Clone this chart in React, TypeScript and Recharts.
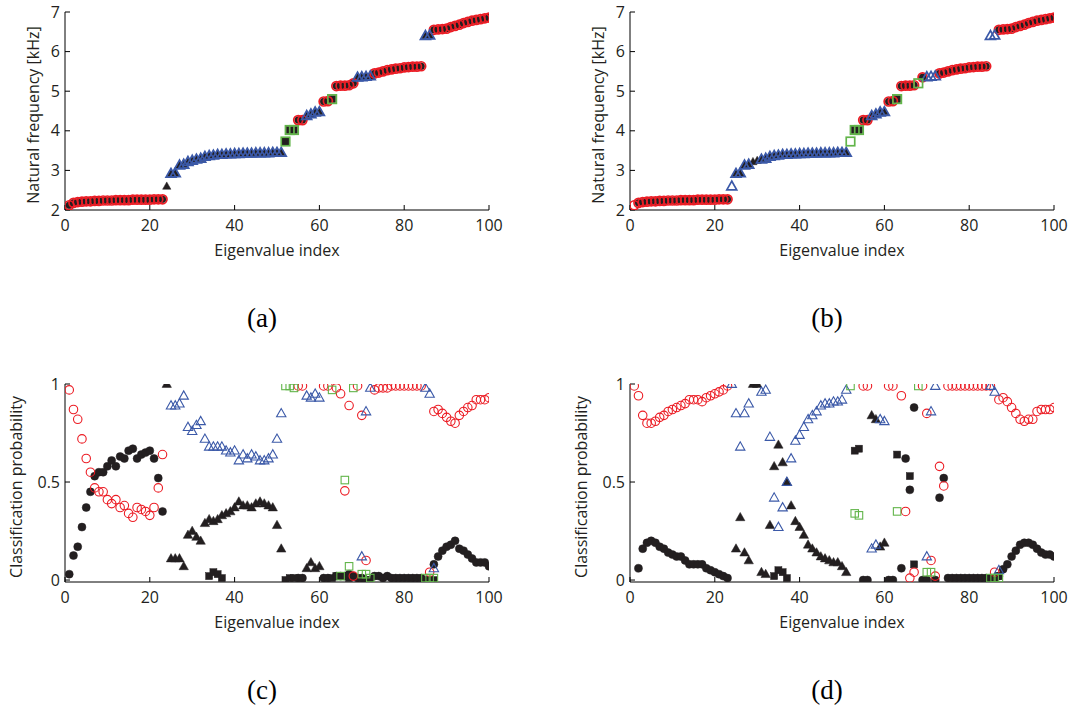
import { ScatterChart, Scatter, XAxis, YAxis } from "recharts";

// natural frequency [kHz] of eigenvalues 1..100 (panels a, b)
const FREQ = [
  2.12, 2.18, 2.2, 2.21, 2.22, 2.22, 2.23, 2.23, 2.24, 2.24, 2.24, 2.25, 2.25, 2.25, 2.25, 2.26, 2.26, 2.26, 2.26, 2.26,
  2.27, 2.27, 2.27, 2.6, 2.92, 2.93, 3.13, 3.15, 3.22, 3.25, 3.28, 3.3, 3.35, 3.37, 3.38, 3.4, 3.4, 3.41, 3.41, 3.42,
  3.42, 3.43, 3.43, 3.43, 3.44, 3.44, 3.44, 3.44, 3.45, 3.45, 3.45, 3.73, 4.02, 4.02, 4.27, 4.27, 4.38, 4.42, 4.47, 4.48,
  4.74, 4.75, 4.8, 5.13, 5.14, 5.14, 5.15, 5.2, 5.35, 5.36, 5.37, 5.38, 5.45, 5.47, 5.5, 5.53, 5.55, 5.57, 5.58, 5.6,
  5.61, 5.62, 5.62, 5.63, 6.4, 6.41, 6.55, 6.56, 6.57, 6.58, 6.62, 6.65, 6.68, 6.72, 6.75, 6.78, 6.8, 6.82, 6.84, 6.86,
];

// class of each eigenvalue as runs: c = circle, t = triangle, s = square, - = none
type Run = [string, number];
const A_RING: Run[] = [["c", 23], ["-", 1], ["t", 27], ["s", 3], ["c", 2], ["t", 4], ["c", 2], ["s", 1], ["c", 5], ["t", 4], ["c", 12], ["t", 2], ["c", 14]];
const A_FILL: Run[] = [["c", 23], ["t", 28], ["s", 3], ["c", 2], ["t", 4], ["c", 2], ["s", 1], ["c", 5], ["t", 4], ["c", 12], ["t", 2], ["c", 14]];
const B_RING: Run[] = [["c", 23], ["t", 5], ["-", 2], ["t", 21], ["s", 3], ["c", 2], ["t", 4], ["c", 2], ["s", 1], ["c", 4], ["s", 1], ["c", 1], ["t", 3], ["c", 12], ["t", 2], ["c", 14]];
const B_FILL: Run[] = [["-", 1], ["c", 22], ["-", 1], ["t", 27], ["-", 1], ["s", 2], ["c", 2], ["t", 4], ["c", 2], ["s", 1], ["c", 4], ["-", 1], ["c", 1], ["-", 3], ["c", 12], ["-", 2], ["c", 14]];

// classification probability, as [first index, values...]
type Seg = [number, number[]];
const C_RED: Seg[] = [
  [1, [0.97, 0.87, 0.82, 0.72, 0.62, 0.55, 0.47, 0.45, 0.45, 0.41, 0.39, 0.41, 0.37, 0.38, 0.34, 0.32, 0.37, 0.36, 0.35, 0.33, 0.37, 0.47, 0.64]],
  [55, [0.99, 0.99]],
  [61, [0.99, 0.99]],
  [64, [0.98, 0.95, 0.455, 0.89, 0.02, 0.99, 0.84, 0.1]],
  [73, [0.97, 0.98, 0.98, 0.98, 0.99, 0.99, 0.99, 0.99, 0.99, 0.99, 0.99, 0.99]],
  [86, [0.04, 0.86, 0.87, 0.85, 0.83, 0.81, 0.8, 0.84, 0.86, 0.88, 0.89, 0.92, 0.92, 0.92, 0.93]],
];
const C_DOT: Seg[] = [
  [1, [0.03, 0.125, 0.17, 0.27, 0.37, 0.45, 0.53, 0.55, 0.55, 0.58, 0.61, 0.58, 0.63, 0.62, 0.66, 0.67, 0.62, 0.64, 0.65, 0.66, 0.62, 0.52, 0.35]],
  [55, [0.01, 0.01]],
  [61, [0.01, 0.01]],
  [64, [0.02, 0.02, 0.02, 0.03, 0.02, 0.01, 0.01]],
  [73, [0.02, 0.02, 0.01, 0.02, 0.01, 0.01, 0.01, 0.01, 0.01, 0.01, 0.01, 0.01]],
  [87, [0.08, 0.12, 0.15, 0.17, 0.18, 0.2, 0.16, 0.15, 0.13, 0.11, 0.09, 0.09, 0.09, 0.07]],
];
const C_TRI: Seg[] = [
  [24, [1.0, 0.11, 0.11, 0.11, 0.07, 0.23, 0.25, 0.22, 0.2, 0.29, 0.31, 0.3, 0.31, 0.33, 0.34, 0.35, 0.37, 0.4, 0.38, 0.38, 0.37, 0.39, 0.4, 0.39, 0.38, 0.37, 0.28, 0.16]],
  [57, [0.06, 0.09, 0.06, 0.07]],
];
const C_BLUE: Seg[] = [
  [25, [0.89, 0.89, 0.9, 0.94, 0.78, 0.76, 0.79, 0.81, 0.72, 0.68, 0.68, 0.68, 0.68, 0.66, 0.65, 0.66, 0.61, 0.64, 0.62, 0.64, 0.63, 0.61, 0.61, 0.62, 0.64, 0.72, 0.85]],
  [57, [0.94, 0.93, 0.95, 0.93]],
  [70, [0.12, 0.86, 0.98]],
  [85, [0.98, 0.95, 0.06]],
];
const C_GREEN: Seg[] = [
  [52, [0.99, 0.99, 0.98]],
  [63, [0.97]],
  [65, [0.02, 0.51, 0.07, 0.98]],
  [70, [0.03, 0.03, 0.01]],
  [85, [0.01, 0.01, 0.01]],
];
const C_SQ: Seg[] = [
  [34, [0.02, 0.04, 0.03, 0.01]],
  [52, [0.0, 0.01, 0.01]],
  [63, [0.01, 0.02, 0.02, 0.02, 0.01]],
  [71, [0.0, 0.0]],
  [85, [0.0, 0.0, 0.0]],
];

const D_RED: Seg[] = [
  [1, [0.99, 0.94, 0.84, 0.8, 0.8, 0.81, 0.83, 0.84, 0.86, 0.87, 0.88, 0.89, 0.9, 0.92, 0.92, 0.92, 0.91, 0.93, 0.94, 0.95, 0.96, 0.97, 0.99]],
  [55, [0.99, 0.99]],
  [61, [0.99, 0.99]],
  [64, [0.94, 0.35, 0.01, 0.04]],
  [69, [0.99, 0.85, 0.1, 0.02, 0.58, 0.48]],
  [75, [0.99, 0.99, 0.99, 0.99, 0.99, 0.99, 0.99, 0.99, 0.99, 0.99, 0.99]],
  [86, [0.04, 0.92, 0.93, 0.91, 0.88, 0.85, 0.82, 0.81, 0.82, 0.82, 0.86, 0.87, 0.87, 0.87, 0.88]],
];
const D_DOT: Seg[] = [
  [2, [0.06, 0.16, 0.19, 0.2, 0.19, 0.17, 0.16, 0.14, 0.13, 0.12, 0.12, 0.1, 0.08, 0.08, 0.08, 0.08, 0.06, 0.05, 0.04, 0.03, 0.02, 0.01]],
  [55, [0, 0]],
  [61, [0, 0]],
  [64, [0.06, 0.62, 0.46, 0.88]],
  [69, [0, 0]],
  [72, [0, 0.42, 0.52]],
  [75, [0.01, 0.01, 0.01, 0.01, 0.01, 0.01, 0.01, 0.01, 0.01, 0.01, 0.01]],
  [87, [0.02, 0.055, 0.08, 0.12, 0.15, 0.18, 0.19, 0.19, 0.18, 0.16, 0.14, 0.13, 0.13, 0.12]],
];
const D_TRI: Seg[] = [
  [25, [0.16, 0.32, 0.14, 0.1, 1.0, 1.0, 0.04, 0.03, 0.28, 0.58, 0.69, 0.6, 0.5, 0.38, 0.3, 0.27, 0.23, 0.18, 0.16, 0.14, 0.12, 0.11, 0.1, 0.09, 0.09, 0.07, 0.04]],
  [57, [0.84, 0.82, 0.17, 0.19]],
];
const D_BLUE: Seg[] = [
  [24, [1.0, 0.85, 0.68, 0.85, 0.9]],
  [31, [0.96, 0.97, 0.73, 0.42, 0.27, 0.37, 0.5, 0.62, 0.71, 0.74, 0.78, 0.82, 0.84, 0.86, 0.89, 0.9, 0.9, 0.91, 0.91, 0.92, 0.97]],
  [57, [0.16, 0.18, 0.82, 0.81]],
  [70, [0.12, 0.86, 0.99]],
  [85, [0.99, 0.96, 0.05]],
];
const D_GREEN: Seg[] = [
  [52, [0.99, 0.34, 0.33]],
  [63, [0.35]],
  [68, [0.99]],
  [70, [0.04, 0.04]],
  [85, [0.01, 0.01, 0.01]],
];
const D_SQ: Seg[] = [
  [34, [0.02, 0.05, 0.04, 0.01]],
  [53, [0.66, 0.67]],
  [63, [0.64]],
  [66, [0.53, 0.08]],
  [85, [0.0, 0.0, 0.02]],
];

const X_TICKS = [0, 20, 40, 60, 80, 100];
const F_TICKS = [2, 3, 4, 5, 6, 7];
const P_TICKS = [0, 0.5, 1];

const RED = "#ec1c24";
const BLUE = "#3b59a8";
const GREEN = "#62b54a";
const INK = "#231f20";
const FONT = "Open Sans, sans-serif";

type Pt = { x: number; y: number };

const expand = (runs: Run[]) => runs.flatMap(([k, n]) => Array(n).fill(k) as string[]);

const freqPoints = (runs: Run[], kind: string): Pt[] =>
  expand(runs)
    .map((k, i) => (k === kind ? { x: i + 1, y: FREQ[i] } : null))
    .filter((p): p is Pt => p !== null);

const segPoints = (segs: Seg[]): Pt[] =>
  segs.flatMap(([start, vals]) => vals.map((v, i) => ({ x: start + i, y: v })));

function markerShape(kind: string, color: string, filled: boolean, size: number, sw = 1.1) {
  return (p: any) => {
    const { cx, cy } = p;
    if (cx == null || cy == null) return <g />;
    const h = size / 2;
    const fill = filled ? color : "none";
    const w = filled ? 0.5 : sw;
    if (kind === "c") return <circle cx={cx} cy={cy} r={h} fill={fill} stroke={color} strokeWidth={w} />;
    if (kind === "s")
      return <rect x={cx - h} y={cy - h} width={size} height={size} fill={fill} stroke={color} strokeWidth={w} />;
    const pts = `${cx},${cy - h * 1.15} ${cx - h * 1.1},${cy + h * 0.8} ${cx + h * 1.1},${cy + h * 0.8}`;
    return <polygon points={pts} fill={fill} stroke={color} strokeWidth={w} strokeLinejoin="miter" />;
  };
}

type Layer = { key: string; data: Pt[]; shape: (p: any) => any };

const COLOR_OF: Record<string, string> = { c: RED, t: BLUE, s: GREEN };

function freqLayers(ring: Run[], fill: Run[]): Layer[] {
  const out: Layer[] = [];
  for (const k of ["c", "t", "s"]) {
    out.push({ key: "f" + k, data: freqPoints(fill, k), shape: markerShape(k, INK, true, k === "t" ? 7.5 : 7) });
  }
  for (const k of ["c", "t", "s"]) {
    out.push({ key: "r" + k, data: freqPoints(ring, k), shape: markerShape(k, COLOR_OF[k], false, k === "s" ? 8.5 : 9, 1.7) });
  }
  return out;
}

function probLayers(dot: Seg[], tri: Seg[], sq: Seg[], red: Seg[], blue: Seg[], green: Seg[]): Layer[] {
  return [
    { key: "dot", data: segPoints(dot), shape: markerShape("c", INK, true, 8) },
    { key: "tri", data: segPoints(tri), shape: markerShape("t", INK, true, 8.5) },
    { key: "sq", data: segPoints(sq), shape: markerShape("s", INK, true, 7) },
    { key: "red", data: segPoints(red), shape: markerShape("c", RED, false, 8.5) },
    { key: "blue", data: segPoints(blue), shape: markerShape("t", BLUE, false, 8.5) },
    { key: "green", data: segPoints(green), shape: markerShape("s", GREEN, false, 7.5) },
  ];
}

const xTitle = (caption: string) => (props: any) => {
  const vb = props.viewBox || {};
  const cx = vb.x + vb.width / 2;
  return (
    <g>
      <text x={cx} y={vb.y + 40} textAnchor="middle" dominantBaseline="central" fill={INK} fontSize={16} fontFamily={FONT}>
        Eigenvalue index
      </text>
      <text x={vb.x + 197} y={vb.y + 108} textAnchor="middle" dominantBaseline="central" fill="#000" fontSize={27} fontFamily="Liberation Serif, serif">
        {caption}
      </text>
    </g>
  );
};

const yTitle = (title: string, gap: number) => (props: any) => {
  const vb = props.viewBox || {};
  const x = vb.x + vb.width - gap;
  const y = vb.y + vb.height / 2 + 4;
  return (
    <text x={x} y={y} transform={`rotate(-90 ${x} ${y})`} textAnchor="middle" dominantBaseline="central" fill={INK} fontSize={16} fontFamily={FONT}>
      {title}
    </text>
  );
};

type PanelProps = {
  left: number;
  top: number;
  yDomain: [number, number];
  yTicks: number[];
  title: string;
  titleGap: number;
  caption: string;
  layers: Layer[];
};

// plot box: 65px from the chart's left, 424px wide, 198px tall, starting 20px below the chart's top
function Panel({ left, top, yDomain, yTicks, title, titleGap, caption, layers }: PanelProps) {
  const tickStyle = { fill: INK, fontSize: 16, fontFamily: FONT };
  return (
    <div style={{ position: "absolute", left, top: top - 11 }}>
      <ScatterChart width={520} height={351} margin={{ top: 20, right: 31, bottom: 78, left: 0 }}>
        <XAxis
          xAxisId={0}
          type="number"
          dataKey="x"
          domain={[0, 100]}
          ticks={X_TICKS}
          allowDataOverflow
          height={55}
          tickSize={-5}
          tickMargin={15}
          stroke="#000"
          tick={tickStyle}
          label={xTitle(caption)}
        />
        <XAxis xAxisId="top" orientation="top" type="number" domain={[0, 100]} ticks={X_TICKS} allowDataOverflow height={0} tickSize={-5} tick={false} stroke="#000" />
        <YAxis
          yAxisId={0}
          type="number"
          dataKey="y"
          domain={yDomain}
          ticks={yTicks}
          allowDataOverflow
          width={65}
          tickSize={-5}
          tickMargin={10}
          stroke="#000"
          tick={tickStyle}
          label={yTitle(title, titleGap)}
        />
        <YAxis yAxisId="right" orientation="right" type="number" domain={yDomain} ticks={yTicks} allowDataOverflow width={0} tickSize={-5} tick={false} stroke="#000" />
        {layers.map((l) => (
          <Scatter key={l.key} data={l.data} xAxisId={0} yAxisId={0} shape={l.shape} isAnimationActive={false} />
        ))}
      </ScatterChart>
    </div>
  );
}

export default function App() {
  return (
    <div style={{ position: "absolute", left: 0, top: 0, width: 1081, height: 711, background: "#fff", overflow: "hidden" }}>
      <Panel left={0} top={3} yDomain={[2, 7]} yTicks={F_TICKS} title="Natural frequency [kHz]" titleGap={32} caption="(a)" layers={freqLayers(A_RING, A_FILL)} />
      <Panel left={565} top={3} yDomain={[2, 7]} yTicks={F_TICKS} title="Natural frequency [kHz]" titleGap={32} caption="(b)" layers={freqLayers(B_RING, B_FILL)} />
      <Panel left={0} top={375} yDomain={[-0.01, 1]} yTicks={P_TICKS} title="Classification probability" titleGap={49} caption="(c)" layers={probLayers(C_DOT, C_TRI, C_SQ, C_RED, C_BLUE, C_GREEN)} />
      <Panel left={565} top={375} yDomain={[-0.01, 1]} yTicks={P_TICKS} title="Classification probability" titleGap={49} caption="(d)" layers={probLayers(D_DOT, D_TRI, D_SQ, D_RED, D_BLUE, D_GREEN)} />
    </div>
  );
}
